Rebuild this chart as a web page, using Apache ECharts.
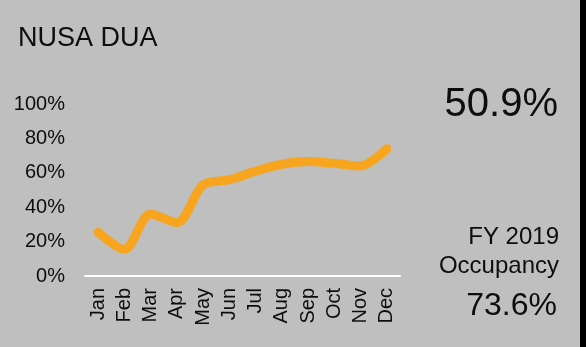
<!DOCTYPE html>
<html>
<head>
<meta charset="utf-8">
<script src="https://cdn.jsdelivr.net/npm/echarts@6/dist/echarts.min.js"></script>
<style>
html,body{margin:0;padding:0;background:#bfbfbf;}
#c{width:586px;height:347px;}
</style>
</head>
<body>
<div id="c"></div>
<script>
var months = ['Jan','Feb','Mar','Apr','May','Jun','Jul','Aug','Sep','Oct','Nov','Dec'];
var occupancy = [25.5, 15.5, 36, 31, 53, 56, 61, 65, 66.5, 65.5, 64, 74];
var yTicks = [0, 20, 40, 60, 80, 100];
var titleText = 'NUSA DUA';
var avgText = '50.9%';
var fyLabel1 = 'FY 2019';
var fyLabel2 = 'Occupancy';
var fyValue = '73.6%';

var chart = echarts.init(document.getElementById('c'), null, {renderer:'canvas'});
var font = "'Liberation Sans', Arial, sans-serif";
chart.setOption({
  backgroundColor: '#bfbfbf',
  animation: false,
  title: {
    text: titleText, left: 13, top: 20,
    textStyle: {fontFamily: font, fontSize: 27, fontWeight: 'normal', color: '#0d0d0d'}
  },
  grid: {left: 85, right: 186, top: 104, bottom: 71},
  xAxis: {
    type: 'category', data: months, boundaryGap: true,
    axisLine: {lineStyle: {color: '#ffffff', width: 2}},
    axisTick: {show: false},
    axisLabel: {rotate: 90, margin: 12, fontFamily: font, fontSize: 20, color: '#0d0d0d', interval: 0}
  },
  yAxis: {
    type: 'value', min: yTicks[0], max: yTicks[yTicks.length-1], interval: yTicks[1]-yTicks[0],
    axisLine: {show: false}, axisTick: {show: false}, splitLine: {show: false},
    axisLabel: {formatter: '{value}%', margin: 20, fontFamily: font, fontSize: 20, color: '#0d0d0d'}
  },
  series: [{
    type: 'line', data: occupancy, smooth: 0.3, showSymbol: false, symbol: 'none',
    lineStyle: {color: '#f7a51e', width: 9, cap: 'round', join: 'round'}
  }],
  graphic: [
    {type: 'rect', right: 0, top: 0, shape: {width: 6, height: 347}, style: {fill: '#000'}},
    {type: 'text', right: 28, top: 85, style: {text: avgText, font: '40px ' + font, fill: '#0d0d0d'}},
    {type: 'text', right: 27, top: 225, style: {text: fyLabel1, font: '24px ' + font, fill: '#0d0d0d'}},
    {type: 'text', right: 27, top: 254, style: {text: fyLabel2, font: '24px ' + font, fill: '#0d0d0d'}},
    {type: 'text', right: 29, top: 290, style: {text: fyValue, font: '32px ' + font, fill: '#0d0d0d'}}
  ]
});
</script>
</body>
</html>
